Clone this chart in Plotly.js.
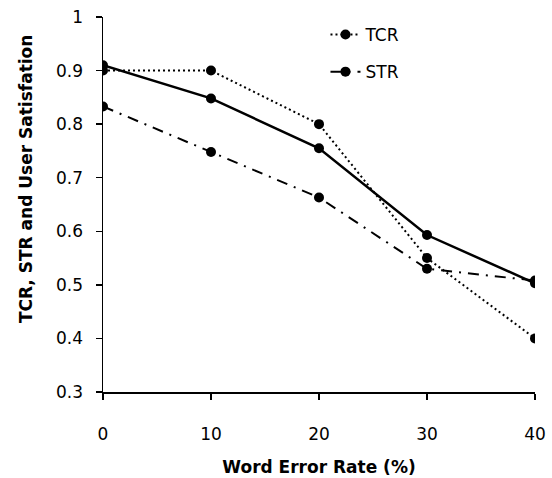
<!DOCTYPE html>
<html>
<head>
<meta charset="utf-8">
<script src="https://cdn.plot.ly/plotly-3.0.1.min.js"></script>
<style>html,body{margin:0;padding:0;background:#fff}#chart{width:552px;height:478px}</style>
</head>
<body>
<div id="chart"></div>
<script>
var wer = [0, 10, 20, 30, 40];
var tcr = [0.90, 0.90, 0.80, 0.55, 0.40];
var str = [0.833, 0.748, 0.663, 0.53, 0.508];
var userSat = [0.91, 0.848, 0.755, 0.593, 0.503];
var xTicks = [0, 10, 20, 30, 40];
var yTicks = [0.3, 0.4, 0.5, 0.6, 0.7, 0.8, 0.9, 1];
var yTickText = ['0.3', '0.4', '0.5', '0.6', '0.7', '0.8', '0.9', '1'];
var xTitle = 'Word Error Rate (%)';
var yTitle = 'TCR, STR and User Satisfation';

var fnt = 'DejaVu Sans, sans-serif';
var traces = [
  {x: wer, y: tcr, name: 'TCR', legendgroup: 'a', mode: 'lines+markers', line: {color: '#000', width: 2, dash: '2px,3px'}, marker: {color: '#000', size: 10}},
  {x: wer, y: str, name: 'STR', legendgroup: 'b', mode: 'lines+markers', line: {color: '#000', width: 2, dash: '11px,7px,2px,7px'}, marker: {color: '#000', size: 10}},
  {x: wer, y: userSat, name: 'User Satisfaction', showlegend: false, mode: 'lines+markers', line: {color: '#000', width: 2.5}, marker: {color: '#000', size: 10}}
];
var layout = {
  width: 552, height: 478,
  margin: {l: 103, r: 17, t: 17, b: 86},
  paper_bgcolor: '#fff', plot_bgcolor: '#fff',
  font: {family: fnt, size: 17, color: '#000'},
  showlegend: true,
  legend: {x: 0.515, y: 1.0, xanchor: 'left', yanchor: 'top', bgcolor: 'rgba(0,0,0,0)', font: {size: 17}, tracegroupgap: 12},
  xaxis: {
    range: [0, 40], tickvals: xTicks, ticktext: xTicks.map(String),
    showgrid: false, zeroline: false, showline: true, linecolor: '#000', linewidth: 1.5,
    ticks: 'outside', ticklen: 6, tickcolor: '#000', tickwidth: 1.5,
    tickfont: {size: 17}, ticklabelstandoff: 20,
    title: {text: '<b>' + xTitle + '</b>', font: {size: 17}, standoff: 18}
  },
  yaxis: {
    range: [0.3, 1], tickvals: yTicks, ticktext: yTickText,
    showgrid: false, zeroline: false, showline: true, linecolor: '#000', linewidth: 1.5,
    ticks: 'outside', ticklen: 6, tickcolor: '#000', tickwidth: 1.5,
    tickfont: {size: 17}, ticklabelstandoff: 9
  },
  annotations: [{
    text: '<b>' + yTitle + '</b>', textangle: -90, xref: 'paper', yref: 'paper',
    x: -0.178, y: 0.568, xanchor: 'center', yanchor: 'middle', showarrow: false,
    font: {size: 17, family: fnt, color: '#000'}
  }]
};
Plotly.newPlot('chart', traces, layout, {displayModeBar: false, staticPlot: true});
</script>
</body>
</html>
